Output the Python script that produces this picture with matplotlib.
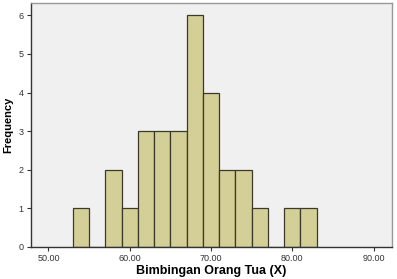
import numpy as np
from matplotlib import pyplot as plt

plt.rcParams['font.family'] = ['Liberation Sans', 'DejaVu Sans']

# histogram bins (width 2)
bin_edges = [53, 55, 57, 59, 61, 63, 65, 67, 69, 71, 73, 75, 77, 79, 81, 83]
counts = [1, 0, 2, 1, 3, 3, 3, 6, 4, 2, 2, 1, 0, 1, 1]
x_ticks = [50, 60, 70, 80, 90]
y_ticks = [0, 1, 2, 3, 4, 5, 6]

fig = plt.figure(figsize=(3.97, 2.79), dpi=100)
ax = fig.add_axes([0.077, 0.115, 0.911, 0.874])
ax.set_facecolor('#f0f0f0')

ax.hist(bin_edges[:-1], bins=bin_edges, weights=counts,
        color='#d4cf97', edgecolor='#3a3a2a', linewidth=0.9)

ax.set_xlim(47.8, 92.3)
ax.set_ylim(0, 6.32)
ax.set_xticks(x_ticks)
ax.set_xticklabels(['%.2f' % v for v in x_ticks])
ax.set_yticks(y_ticks)
ax.tick_params(labelsize=6.5, length=3, width=0.8, colors='#333333', pad=2)

for s in ['left', 'bottom']:
    ax.spines[s].set_color('#333333')
    ax.spines[s].set_linewidth(1.0)
for s in ['top', 'right']:
    ax.spines[s].set_color('#999999')
    ax.spines[s].set_linewidth(1.0)

ax.set_xlabel('Bimbingan Orang Tua (X)', fontsize=9, fontweight='bold', labelpad=1.5)
ax.set_ylabel('Frequency', fontsize=8, fontweight='bold', labelpad=4)

fig.savefig('out.png', dpi=100)
